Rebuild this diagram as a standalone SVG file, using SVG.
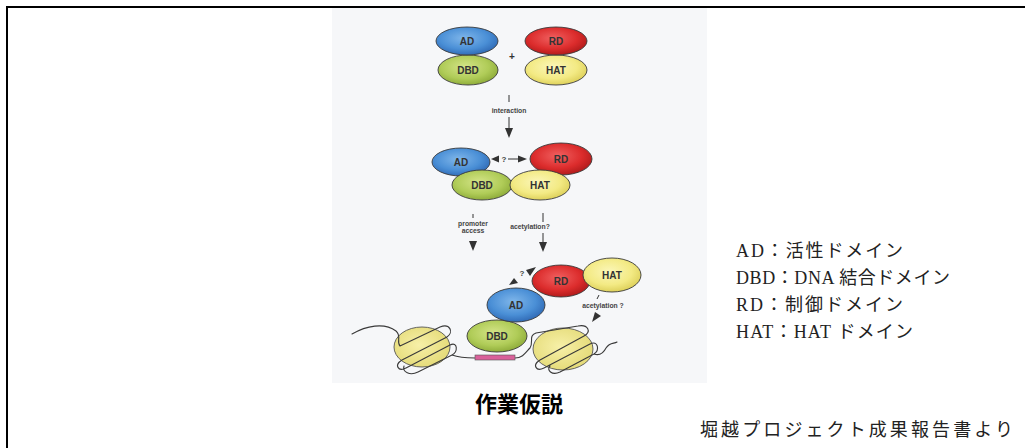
<svg xmlns="http://www.w3.org/2000/svg" width="1025" height="448" viewBox="0 0 1025 448">
  <defs>
    <radialGradient id="gBlue" cx="0.45" cy="0.4" r="0.65">
      <stop offset="0" stop-color="#7fb6ea"/>
      <stop offset="0.6" stop-color="#4a8fd6"/>
      <stop offset="1" stop-color="#2c64b0"/>
    </radialGradient>
    <radialGradient id="gRed" cx="0.45" cy="0.4" r="0.65">
      <stop offset="0" stop-color="#f06060"/>
      <stop offset="0.6" stop-color="#dc2c2c"/>
      <stop offset="1" stop-color="#a81818"/>
    </radialGradient>
    <radialGradient id="gGreen" cx="0.45" cy="0.4" r="0.65">
      <stop offset="0" stop-color="#d4e488"/>
      <stop offset="0.6" stop-color="#b0cc58"/>
      <stop offset="1" stop-color="#88a634"/>
    </radialGradient>
    <radialGradient id="gYellow" cx="0.45" cy="0.4" r="0.65">
      <stop offset="0" stop-color="#fbf6b8"/>
      <stop offset="0.6" stop-color="#f3ea84"/>
      <stop offset="1" stop-color="#d9cb52"/>
    </radialGradient>
    <radialGradient id="gNuc" cx="0.45" cy="0.45" r="0.65">
      <stop offset="0" stop-color="#f7f0a8"/>
      <stop offset="1" stop-color="#e2d872"/>
    </radialGradient>
    <style>
      .dom { stroke: #3a3a3a; stroke-width: 0.9; }
      .dl { font-family: "Liberation Sans", Arial, sans-serif; font-weight: bold; font-size: 10px; fill: #333; text-anchor: middle; }
      .sm { font-family: "Liberation Sans", Arial, sans-serif; font-weight: bold; font-size: 6.8px; fill: #444; text-anchor: middle; }
      .ln { stroke: #333; stroke-width: 1; fill: none; }
      .ah { fill: #333; }
      .dna { stroke: #3a3a3a; stroke-width: 1.1; fill: none; stroke-linecap: round; stroke-linejoin: round; }
      .nuc { fill: url(#gNuc); stroke: #555; stroke-width: 0.9; }
      .leg { font-family: "Liberation Serif", "Noto Sans CJK JP", serif; font-size: 18px; fill: #222; }
    </style>
  </defs>

  <!-- frame -->
  <path d="M7,448 V7 H1025" fill="none" stroke="#000" stroke-width="2"/>

  <!-- figure panel -->
  <rect x="332" y="8" width="375" height="375" fill="#f6f7f9"/>

  <!-- stage 1: separate activator and regulator -->
  <g id="s1-dbd"><ellipse class="dom" cx="468" cy="70" rx="30" ry="15" fill="url(#gGreen)"/><text class="dl" x="468" y="74">DBD</text></g>
  <g id="s1-ad"><ellipse class="dom" cx="467" cy="41" rx="31" ry="14" fill="url(#gBlue)"/><text class="dl" x="467" y="45">AD</text></g>
  <g id="s1-hat"><ellipse class="dom" cx="556" cy="70" rx="31" ry="15" fill="url(#gYellow)"/><text class="dl" x="556" y="74">HAT</text></g>
  <g id="s1-rd"><ellipse class="dom" cx="556" cy="41" rx="31" ry="14" fill="url(#gRed)"/><text class="dl" x="556" y="45">RD</text></g>
  <text class="dl" x="512" y="60">+</text>

  <!-- stage 2: complex -->
  <g id="s2-ad"><ellipse class="dom" cx="461" cy="162" rx="29" ry="14" fill="url(#gBlue)"/><text class="dl" x="461" y="166">AD</text></g>
  <g id="s2-rd"><ellipse class="dom" cx="561" cy="159" rx="31" ry="16" fill="url(#gRed)"/><text class="dl" x="561" y="163">RD</text></g>
  <g id="s2-dbd"><ellipse class="dom" cx="482" cy="185" rx="30" ry="15" fill="url(#gGreen)"/><text class="dl" x="482" y="189">DBD</text></g>
  <g id="s2-hat"><ellipse class="dom" cx="540" cy="185" rx="30" ry="15" fill="url(#gYellow)"/><text class="dl" x="540" y="189">HAT</text></g>

  <!-- stage 3: chromatin -->
  <g id="chromatin">
    <ellipse class="nuc" cx="422" cy="347" rx="28" ry="20"/>
    <ellipse class="nuc" cx="563" cy="349" rx="30" ry="21"/>
    <path class="dna" d="M352,334 C366,326 384,322 396,331 C402,336 396,342 400,346 L440,327 C450,323 454,332 447,337 L402,360 C394,365 398,372 406,368 L450,345 C458,341 458,352 452,355 L418,372 C410,376 402,372 404,366 M452,355 C460,358 466,358 475,358"/>
    <path class="dna" d="M515,358 C523,358 526,352 530,348 C534,342 528,336 536,333 L578,326 C588,324 592,332 584,336 L540,360 C532,365 536,372 544,368 L590,344 C598,340 600,350 594,354 L560,372 C552,376 546,370 550,366 M594,354 C600,356 604,352 606,348 C610,342 614,344 617,342"/>
    <rect x="475" y="355" width="40" height="5" fill="#d9609a" stroke="#555" stroke-width="0.6"/>
  </g>
  <g id="s3-dbd"><ellipse class="dom" cx="497" cy="336" rx="30" ry="16" fill="url(#gGreen)"/><text class="dl" x="497" y="340">DBD</text></g>
  <g id="s3-ad"><ellipse class="dom" cx="516" cy="305" rx="29" ry="17" fill="url(#gBlue)"/><text class="dl" x="516" y="309">AD</text></g>
  <g id="s3-rd"><ellipse class="dom" cx="561" cy="281" rx="29" ry="16" fill="url(#gRed)"/><text class="dl" x="561" y="285">RD</text></g>
  <g id="s3-hat"><ellipse class="dom" cx="612" cy="275" rx="29" ry="17" fill="url(#gYellow)"/><text class="dl" x="612" y="279">HAT</text></g>

  <!-- connectors -->
  <g id="connectors">
    <!-- interaction -->
    <line class="ln" x1="509" y1="95" x2="509" y2="102"/>
    <text class="sm" x="509" y="113">interaction</text>
    <line class="ln" x1="509" y1="117" x2="509" y2="129"/>
    <polygon class="ah" points="505,128 513,128 509,138"/>

    <!-- AD / RD contact -->
    <polygon class="ah" points="491,159 499,155.5 499,162.5"/>
    <text class="sm" x="504" y="162" style="font-size:8px">?</text>
    <line class="ln" x1="508" y1="159" x2="519" y2="159"/>
    <polygon class="ah" points="527,159 518,155.5 518,162.5"/>

    <!-- promoter access -->
    <line class="ln" x1="473" y1="214" x2="473" y2="218"/>
    <text class="sm" x="473" y="226">promoter</text>
    <text class="sm" x="473" y="233">access</text>
    <polygon class="ah" points="469,241 477,241 473,251"/>

    <!-- acetylation? -->
    <line class="ln" x1="543" y1="213" x2="543" y2="222"/>
    <text class="sm" x="530" y="229">acetylation?</text>
    <line class="ln" x1="543" y1="233" x2="543" y2="243"/>
    <polygon class="ah" points="539,242 547,242 543,252"/>

    <!-- AD / RD contact on chromatin -->
    <polygon class="ah" points="509,285 514,278 518,283"/>
    <text class="sm" x="522" y="276" style="font-size:8px">?</text>
    <polygon class="ah" points="536,267 526,270 530,276"/>

    <!-- histone acetylation -->
    <line class="ln" x1="599" y1="295" x2="597" y2="299"/>
    <text class="sm" x="603" y="308">acetylation ?</text>
    <polygon class="ah" points="592,322 595,312 601,316"/>
  </g>

  <!-- captions -->
  <text x="519" y="412" font-family="'Noto Sans CJK JP', sans-serif" font-weight="bold" font-size="22" text-anchor="middle" fill="#000">作業仮説</text>

  <g id="legend">
    <text class="leg" x="736" y="257" textLength="167" lengthAdjust="spacing">AD：活性ドメイン</text>
    <text class="leg" x="736" y="284" textLength="214" lengthAdjust="spacing">DBD：DNA 結合ドメイン</text>
    <text class="leg" x="736" y="311" textLength="167" lengthAdjust="spacing">RD：制御ドメイン</text>
    <text class="leg" x="736" y="338" textLength="177" lengthAdjust="spacing">HAT：HAT ドメイン</text>
  </g>

  <text class="leg" x="700" y="436" textLength="313" lengthAdjust="spacing">堀越プロジェクト成果報告書より</text>
</svg>
